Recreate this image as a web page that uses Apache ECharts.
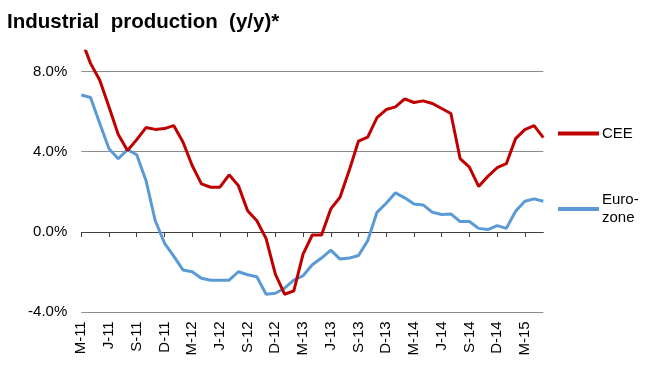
<!DOCTYPE html>
<html>
<head>
<meta charset="utf-8">
<script src="https://cdn.jsdelivr.net/npm/echarts@6/dist/echarts.min.js"></script>
<style>html,body{margin:0;padding:0;background:#fff}#c{width:650px;height:384px}</style>
</head>
<body>
<div id="c"></div>
<script>
// Monthly, Mar 2011 .. May 2015
var monthLetters = ['J','F','M','A','M','J','J','A','S','O','N','D'];
var categories = [];
(function(){
  var y = 2011, m = 2;
  for (var k = 0; k < 51; k++) {
    categories.push(monthLetters[m] + '-' + String(y).slice(2));
    m++; if (m > 11) { m = 0; y++; }
  }
})();

var cee = [9.6, 8.4, 7.56, 6.23, 4.85, 4.06, 4.6, 5.2, 5.11, 5.15,
           5.3, 4.48, 3.31, 2.4, 2.23, 2.23, 2.85, 2.31, 1.06, 0.56,
           -0.33, -2.1, -3.1, -2.93, -1.1, -0.15, -0.15, 1.15, 1.73, 3.07,
           4.53, 4.73, 5.7, 6.1, 6.23, 6.63, 6.45, 6.53, 6.4, 6.15,
           5.9, 3.65, 3.23, 2.27, 2.77, 3.2, 3.4, 4.65, 5.1, 5.3,
           4.7];
var euro = [6.82, 6.7, 5.4, 4.15, 3.65, 4.1, 3.85, 2.57, 0.57, -0.55,
            -1.2, -1.89, -1.98, -2.3, -2.4, -2.4, -2.4, -1.98, -2.13, -2.23,
            -3.1, -3.05, -2.8, -2.4, -2.18, -1.63, -1.3, -0.9, -1.35, -1.3,
            -1.17, -0.43, 0.98, 1.43, 1.95, 1.7, 1.4, 1.35, 0.98, 0.87,
            0.9, 0.52, 0.52, 0.18, 0.12, 0.32, 0.18, 1.03, 1.53, 1.65,
            1.53];
var yTicks = [-4, 0, 4, 8];

var FONT = 'Liberation Sans, Arial, sans-serif';
var chart = echarts.init(document.getElementById('c'), null, {renderer: 'canvas'});
chart.setOption({
  animation: false,
  backgroundColor: '#fff',
  title: {
    text: 'Industrial  production  (y/y)*',
    left: 2, top: 7,
    textStyle: {fontFamily: FONT, fontSize: 20.5, fontWeight: 'bold', color: '#000'}
  },
  legend: [
    {
      data: ['CEE'], left: 558, top: 126, padding: 0, orient: 'vertical',
      icon: 'rect', itemWidth: 41, itemHeight: 4, itemGap: 0,
      textStyle: {fontFamily: FONT, fontSize: 15, color: '#000', padding: [0,0,0,-2]}
    },
    {
      data: ['Euro-\nzone'], left: 558, top: 182, padding: 0, orient: 'vertical',
      icon: 'rect', itemWidth: 41, itemHeight: 4, itemGap: 0,
      textStyle: {fontFamily: FONT, fontSize: 15, color: '#000', lineHeight: 18, padding: [18,0,0,-2]}
    }
  ],
  grid: {left: 81.3, right: 106.7, top: 51.3, bottom: 71.7, containLabel: false},
  xAxis: [
    {
      type: 'category', data: categories, boundaryGap: false, position: 'bottom',
      axisLine: {show: false, onZero: false},
      axisTick: {show: false},
      axisLabel: {interval: 2, rotate: 90, margin: 9, fontFamily: FONT, fontSize: 15, color: '#000'},
      splitLine: {show: false}
    },
    {
      type: 'category', data: categories, boundaryGap: false, position: 'top',
      axisLine: {show: true, onZero: true, lineStyle: {color: '#404040', width: 1}},
      axisTick: {show: true, inside: true, interval: 2, length: 5, lineStyle: {color: '#404040', width: 1}},
      axisLabel: {show: false},
      splitLine: {show: false}
    }
  ],
  yAxis: {
    type: 'value', min: -4, max: 9, interval: 4,
    axisLine: {show: false}, axisTick: {show: false},
    axisLabel: {
      margin: 14, fontFamily: FONT, fontSize: 15, color: '#000', showMaxLabel: false,
      formatter: function (v) { return yTicks.indexOf(v) >= 0 ? v.toFixed(1) + '%' : ''; }
    },
    splitLine: {show: true, showMaxLine: false, lineStyle: {color: '#8c8c8c', width: 1}}
  },
  series: [
    {
      name: 'CEE', type: 'line', data: cee, xAxisIndex: 0, symbol: 'none',
      lineStyle: {color: '#C00000', width: 3}, itemStyle: {color: '#C00000'}, z: 3
    },
    {
      name: 'Euro-\nzone', type: 'line', data: euro, xAxisIndex: 0, symbol: 'none',
      lineStyle: {color: '#5B9BD5', width: 3}, itemStyle: {color: '#5B9BD5'}, z: 2
    }
  ]
});
</script>
</body>
</html>
